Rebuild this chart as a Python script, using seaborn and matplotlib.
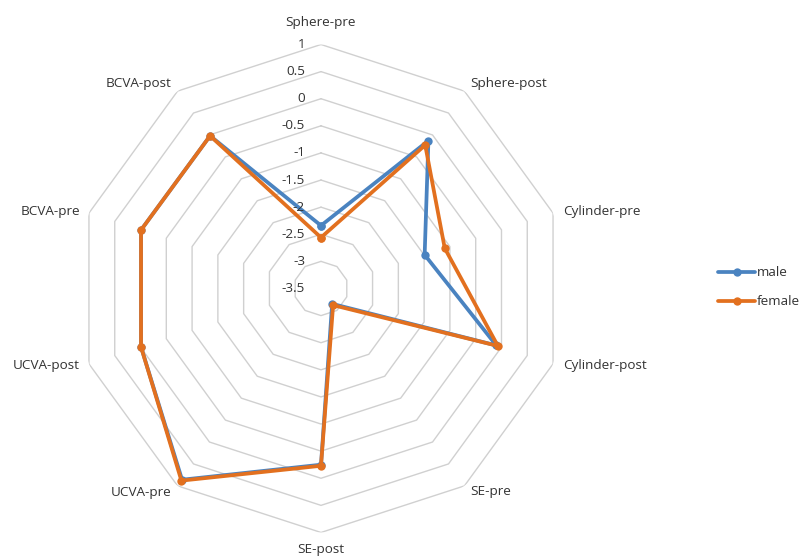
import numpy as np
import pandas as pd
import matplotlib
matplotlib.use("Agg")
import matplotlib.pyplot as plt
import seaborn as sns

categories = ["Sphere-pre", "Sphere-post", "Cylinder-pre", "Cylinder-post", "SE-pre",
              "SE-post", "UCVA-pre", "UCVA-post", "BCVA-pre", "BCVA-post"]
male = [-2.34, -0.13, -1.49, -0.10, -3.15, -0.25, 0.86, -0.01, -0.01, -0.02]
female = [-2.56, -0.23, -1.10, -0.07, -3.12, -0.23, 0.88, -0.01, -0.01, -0.02]
series_names = ["male", "female"]
tick_values = [1, 0.5, 0, -0.5, -1, -1.5, -2, -2.5, -3, -3.5]
tick_labels = ["1", "0.5", "0", "-0.5", "-1", "-1.5", "-2", "-2.5", "-3", "-3.5"]
r_min, r_max = -3.5, 1.0

sns.set_theme(style="white")
plt.rcParams["font.family"] = ["Open Sans", "DejaVu Sans"]

colors = {"male": "#4A83C0", "female": "#E2701F"}
text_color = "#333333"

n = len(categories)
theta = np.linspace(0, 2 * np.pi, n, endpoint=False)
theta_closed = np.append(theta, 2 * np.pi)

rows = []
for name, vals in zip(series_names, [male, female]):
    vals_closed = list(vals) + [vals[0]]
    for t, v in zip(theta_closed, vals_closed):
        rows.append({"theta": t, "value": v, "sex": name})
df = pd.DataFrame(rows)

fig = plt.figure(figsize=(8.03, 5.58), dpi=100)
ax = fig.add_axes([0.0959, 0.0457, 0.6077, 0.8746], projection="polar")
ax.set_theta_zero_location("N")
ax.set_theta_direction(-1)
ax.set_ylim(r_min, r_max)
ax.grid(False)
ax.spines["polar"].set_visible(False)
ax.set_xticks([])
ax.set_yticks([])
ax.set_facecolor("none")

# decagon grid rings
for v in tick_values:
    if v == r_min:
        continue
    ax.plot(theta_closed, [v] * len(theta_closed), color="#D0D0D0", lw=1.0, zorder=1)

sns.lineplot(data=df, x="theta", y="value", hue="sex", palette=colors,
             hue_order=series_names, sort=False, estimator=None,
             marker="o", markersize=6, markeredgewidth=0, linewidth=2.7,
             ax=ax, legend=False, zorder=3)
ax.set_xlabel("")
ax.set_ylabel("")

# radial tick labels
for v, lab in zip(tick_values, tick_labels):
    ax.annotate(lab, xy=(0, v), xytext=(-16, 0), textcoords="offset pixels",
                ha="right", va="center", fontsize=9.7, color=text_color,
                annotation_clip=False)

# category labels
offsets = [(0, 22, "center"), (6, 8, "left"), (10, 2, "left"), (10, -2, "left"),
           (6, -6, "left"), (0, -17, "center"), (-6, -7, "right"), (-9, -2, "right"),
           (-9, 2, "right"), (-6, 8, "right")]
for t, lab, (dx, dy, ha) in zip(theta, categories, offsets):
    ax.annotate(lab, xy=(t, r_max), xytext=(dx, dy), textcoords="offset pixels",
                ha=ha, va="center", fontsize=9.7, color=text_color,
                annotation_clip=False)

handles = [plt.Line2D([], [], color=colors[s], lw=2.7, marker="o", markersize=6,
                      markeredgewidth=0) for s in series_names]
fig.legend(handles, series_names, loc="center left", bbox_to_anchor=(0.887, 0.485),
           frameon=False, fontsize=9.7, handlelength=2.8, handletextpad=0.1,
           labelspacing=1.2, labelcolor=text_color, borderaxespad=0)

fig.savefig("out.png", dpi=100)
